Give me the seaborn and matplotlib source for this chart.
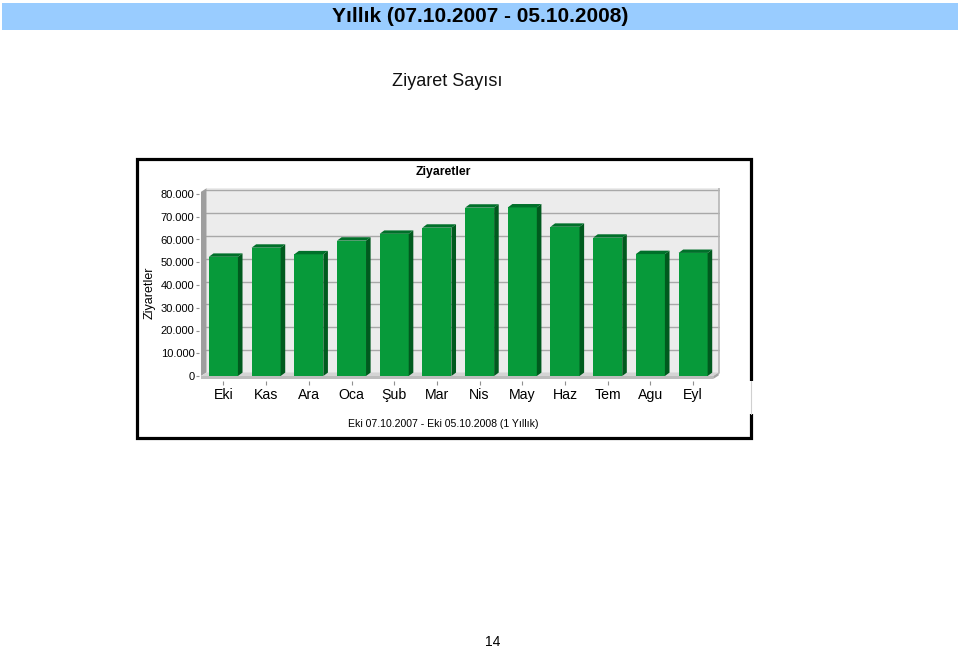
import matplotlib
matplotlib.use("Agg")
import matplotlib.pyplot as plt
import seaborn as sns
import pandas as pd
from matplotlib.patches import Polygon, Rectangle
from matplotlib.lines import Line2D

# ---- data ----
months = ["Eki", "Kas", "Ara", "Oca", "Şub", "Mar", "Nis", "May", "Haz", "Tem", "Agu", "Eyl"]
visits = [52400, 56400, 53500, 59500, 62500, 65200, 74000, 74100, 65600, 60800, 53600, 54100]
ytick_values = [0, 10000, 20000, 30000, 40000, 50000, 60000, 70000, 80000]
ytick_labels = ["0", "10.000", "20.000", "30.000", "40.000", "50.000", "60.000", "70.000", "80.000"]

page_title = "Yıllık (07.10.2007 - 05.10.2008)"
section_title = "Ziyaret Sayısı"
chart_title = "Ziyaretler"
y_label = "Ziyaretler"
footer = "Eki 07.10.2007 - Eki 05.10.2008 (1 Yıllık)"
page_no = "14"

sns.set_style("white")
plt.rcParams["font.family"] = ["Liberation Sans", "DejaVu Sans"]

W, H = 960, 650
fig = plt.figure(figsize=(9.6, 6.5), dpi=100)


def fx(px):
    return px / W


def fy(py):
    return 1 - py / H


# banner
fig.patches.append(Rectangle((fx(2), fy(30)), fx(956), 27 / H, transform=fig.transFigure,
                             facecolor="#99ccff", edgecolor="none", zorder=0))
fig.text(fx(480), fy(17), page_title, ha="center", va="center", fontsize=15,
         fontweight="bold", color="black")
fig.text(fx(447), fy(81), section_title, ha="center", va="center", fontsize=13, color="#111111")

# chart box
fig.patches.append(Rectangle((fx(137), fy(438)), fx(614), 279 / H, transform=fig.transFigure,
                             facecolor="white", edgecolor="black", linewidth=2.3, zorder=1))
# gap in right border
fig.patches.append(Rectangle((fx(748.5), fy(414)), fx(5), 33 / H, transform=fig.transFigure,
                             facecolor="white", edgecolor="none", zorder=2))
fig.lines.append(Line2D([fx(750.5), fx(750.5)], [fy(414), fy(381)], transform=fig.transFigure,
                        color="#d0d0d0", linewidth=0.8, zorder=3))

fig.text(fx(443), fy(172), chart_title, ha="center", va="center", fontsize=8.8,
         fontweight="bold", color="black", zorder=5)
fig.text(fx(150), fy(293), y_label, ha="center", va="center", fontsize=9, rotation=90,
         color="black", zorder=5)
fig.text(fx(443), fy(424), footer, ha="center", va="center", fontsize=7.6, color="black", zorder=5)
fig.text(fx(493), fy(642), page_no, ha="center", va="center", fontsize=10, color="black")

# axes: bar centres at 223.4 + 42.7*i px ; y=0 at 376 px ; 22.75 px per 10000
xl, xr = -0.58, 11.62
yb, yt = -2000, 82700
px_per_x = 42.7
px_per_y = 22.75 / 10000
ax_left = 223.4 + xl * px_per_x
ax_right = 223.4 + xr * px_per_x
ax_bottom = 376 - yb * px_per_y
ax_top = 376 - yt * px_per_y
ax = fig.add_axes([fx(ax_left), fy(ax_bottom), (ax_right - ax_left) / W, (ax_bottom - ax_top) / H])
ax.set_zorder(4)
ax.patch.set_alpha(0)

df = pd.DataFrame({"Ay": months, "Ziyaret": visits})
front_c = "#079a3a"
side_c = "#005a1e"
top_c = "#00702a"
sns.barplot(data=df, x="Ay", y="Ziyaret", color=front_c, saturation=1, width=0.68,
            edgecolor="none", linewidth=0, ax=ax, zorder=5)

ax.set_xlim(xl, xr)
ax.set_ylim(yb, yt)

# 3D offsets (data units)
dxw = 5.5 / px_per_x
dyw = 3.5 / px_per_y
dxb = 4.6 / px_per_x
dyb = 3.4 / px_per_y

x0 = -0.525          # front left edge of floor / left wall
x1 = 11.60           # back right edge of back wall
top = yt - 200

# back wall
ax.add_patch(Polygon([(x0 + dxw, dyw), (x1, dyw), (x1, top), (x0 + dxw, top)],
                     closed=True, facecolor="#ececec", edgecolor="none", zorder=0))
# gridlines on back wall
for v in ytick_values[1:]:
    ax.plot([x0 + dxw, x1], [v + dyw, v + dyw], color="#a8a8a8", linewidth=1.0, zorder=1)
# left wall
ax.add_patch(Polygon([(x0, 0), (x0 + dxw, dyw), (x0 + dxw, top), (x0, top - dyw)],
                     closed=True, facecolor="#9e9e9e", edgecolor="none", zorder=1))
# right edge shading of back wall
ax.plot([x1, x1], [dyw, top], color="#b5b5b5", linewidth=1.2, zorder=1)
# floor
ax.add_patch(Polygon([(x0, 0), (x1 - dxw, 0), (x1, dyw), (x0 + dxw, dyw)],
                     closed=True, facecolor="#d4d4d4", edgecolor="none", zorder=1))
# floor thickness (front + right side)
ax.add_patch(Polygon([(x0, -1300), (x1 - dxw, -1300), (x1 - dxw, 0), (x0, 0)],
                     closed=True, facecolor="#bdbdbd", edgecolor="none", zorder=1))
ax.add_patch(Polygon([(x1 - dxw, -1300), (x1, dyw - 1300), (x1, dyw), (x1 - dxw, 0)],
                     closed=True, facecolor="#a5a5a5", edgecolor="none", zorder=1))

# 3D bar side and top faces, derived from seaborn's bars
for p in ax.patches[:]:
    if not isinstance(p, Rectangle):
        continue
    bx, bw, bh = p.get_x(), p.get_width(), p.get_height()
    if bh <= 0 or abs(bw - 0.68) > 1e-6:
        continue
    side = Polygon([(bx + bw, 0), (bx + bw + dxb, dyb), (bx + bw + dxb, bh + dyb), (bx + bw, bh)],
                   closed=True, facecolor=side_c, edgecolor="none", zorder=5)
    topf = Polygon([(bx, bh), (bx + bw, bh), (bx + bw + dxb, bh + dyb), (bx + dxb, bh + dyb)],
                   closed=True, facecolor=top_c, edgecolor="none", zorder=5)
    ax.add_patch(side)
    ax.add_patch(topf)

for s in ax.spines.values():
    s.set_visible(False)

ax.set_yticks(ytick_values)
ax.set_yticklabels(ytick_labels)
ax.set_xticks(range(len(months)))
ax.set_xticklabels(months)
ax.set_xlabel("")
ax.set_ylabel("")
ax.tick_params(axis="y", which="both", left=True, length=2.5, width=0.8, color="#909090",
               pad=0.5, labelsize=8, labelcolor="black")
ax.tick_params(axis="x", which="both", bottom=True, length=3, width=0.8, color="#909090",
               pad=2.5, labelsize=10.2, labelcolor="black")
ax.grid(False)

fig.savefig("out.png", dpi=100, facecolor="white")
